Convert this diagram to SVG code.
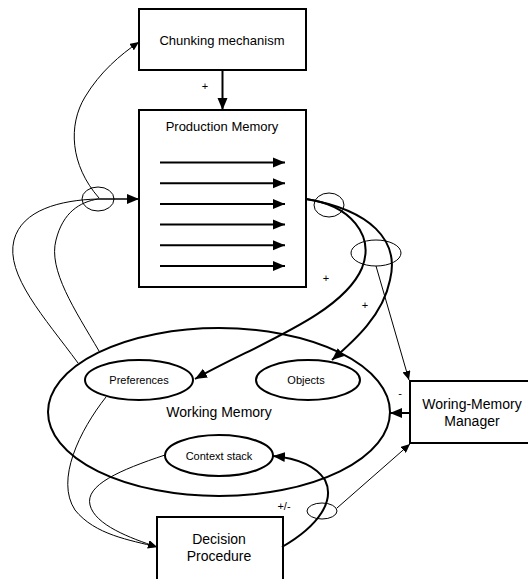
<svg xmlns="http://www.w3.org/2000/svg" width="528" height="579" viewBox="0 0 528 579">
<style>
.box{fill:#fff;stroke:#000;stroke-width:2}
.oval{fill:none;stroke:#000;stroke-width:2}
.hub{fill:none;stroke:#000;stroke-width:1}
.thick{fill:none;stroke:#000;stroke-width:2}
.mid{fill:none;stroke:#000;stroke-width:1.5}
.thin{fill:none;stroke:#000;stroke-width:1}
text{font-family:"Liberation Sans",Arial,sans-serif;fill:#000;text-anchor:middle}
.t14{font-size:14px}
.t13{font-size:13px}
.t11{font-size:11px}
.lbl{font-size:11px}
</style>
<defs>
<marker id="ah" markerUnits="userSpaceOnUse" markerWidth="14" markerHeight="12" refX="12" refY="5" orient="auto" viewBox="0 0 14 10">
<path d="M0,0 L12,5 L0,10 Z" fill="#000"/>
</marker>
<marker id="as" markerUnits="userSpaceOnUse" markerWidth="10" markerHeight="8" refX="9" refY="4" orient="auto" viewBox="0 0 10 8">
<path d="M0,0 L9,4 L0,8 Z" fill="#000"/>
</marker>
</defs>

<g id="chunking">
<rect class="box" x="139" y="9" width="167" height="61"/>
<text class="t13" x="222" y="45">Chunking mechanism</text>
</g>

<g id="production-memory">
<rect class="box" x="139" y="110" width="167" height="177"/>
<text class="t13" x="222" y="131">Production Memory</text>
<g class="rules">
<line class="thick" x1="160" y1="162.5" x2="285" y2="162.5" marker-end="url(#ah)"/>
<line class="thick" x1="160" y1="183.2" x2="285" y2="183.2" marker-end="url(#ah)"/>
<line class="thick" x1="160" y1="203.9" x2="285" y2="203.9" marker-end="url(#ah)"/>
<line class="thick" x1="160" y1="224.6" x2="285" y2="224.6" marker-end="url(#ah)"/>
<line class="thick" x1="160" y1="245.3" x2="285" y2="245.3" marker-end="url(#ah)"/>
<line class="thick" x1="160" y1="266" x2="285" y2="266" marker-end="url(#ah)"/>
</g>
</g>

<g id="working-memory">
<ellipse class="oval" cx="219" cy="412" rx="171" ry="84"/>
<text class="t14" x="219" y="417">Working Memory</text>
</g>

<g id="preferences">
<ellipse class="oval" cx="139" cy="380" rx="54" ry="20"/>
<text class="t11" x="139" y="384">Preferences</text>
</g>

<g id="objects">
<ellipse class="oval" cx="308" cy="380" rx="52" ry="20"/>
<text class="t11" x="306" y="384">Objects</text>
</g>

<g id="context-stack">
<ellipse class="oval" cx="219" cy="455.5" rx="54" ry="20.5"/>
<text class="t11" x="219" y="459.5">Context stack</text>
</g>

<g id="wm-manager">
<rect class="box" x="410" y="381" width="122" height="62"/>
<text class="t14" x="472" y="409">Woring-Memory</text>
<text class="t14" x="472" y="426">Manager</text>
</g>

<g id="decision">
<rect class="box" x="157" y="517" width="126" height="70"/>
<text class="t14" x="219" y="544">Decision</text>
<text class="t14" x="219" y="561">Procedure</text>
</g>

<g id="connectors">
<line class="thick" x1="222.5" y1="70" x2="222.5" y2="110" marker-end="url(#ah)"/>
<text class="lbl" x="205" y="90">+</text>

<ellipse class="hub" cx="98" cy="199" rx="16" ry="12"/>
<path class="thin" d="M78,363 C45,318 5,275 14,240 C22,210 60,200 98,199"/>
<path class="thin" d="M99,351 C75,310 48,270 56,240 C63,212 80,202 98,199"/>
<line class="mid" x1="98" y1="199" x2="139" y2="199" marker-end="url(#ah)"/>
<path class="thin" d="M99,198 C70,165 68,125 85,97 C100,72 120,55 139,42" marker-end="url(#as)"/>

<ellipse class="hub" cx="329" cy="205" rx="15" ry="12"/>
<ellipse class="hub" cx="376" cy="253" rx="25" ry="13"/>
<path class="thick" d="M306,199 C350,205 375,235 362,268 C342,315 255,345 195,379" marker-end="url(#ah)"/>
<path class="thick" d="M306,199 C370,210 400,240 390,280 C383,315 355,340 332,360" marker-end="url(#ah)"/>
<text class="lbl" x="326" y="282">+</text>
<text class="lbl" x="365" y="309">+</text>
<line class="thin" x1="376" y1="266" x2="409" y2="380" marker-end="url(#as)"/>

<line class="thick" x1="410" y1="413" x2="390" y2="413" marker-end="url(#ah)"/>
<text class="lbl" x="400" y="397">-</text>

<path class="thin" d="M106,397 C80,430 55,480 75,510 C95,535 130,540 157,547" marker-end="url(#as)"/>
<path class="thin" d="M165,455 C120,470 85,485 90,505 C95,525 130,538 157,547" marker-end="url(#as)"/>

<path class="thick" d="M282,547 C320,525 335,500 325,480 C315,465 295,458 273,456" marker-end="url(#ah)"/>
<text class="lbl" x="284" y="510">+/-</text>
<ellipse class="hub" cx="322" cy="511" rx="15" ry="8"/>
<line class="thin" x1="337" y1="508" x2="410" y2="444" marker-end="url(#as)"/>
</g>
</svg>
